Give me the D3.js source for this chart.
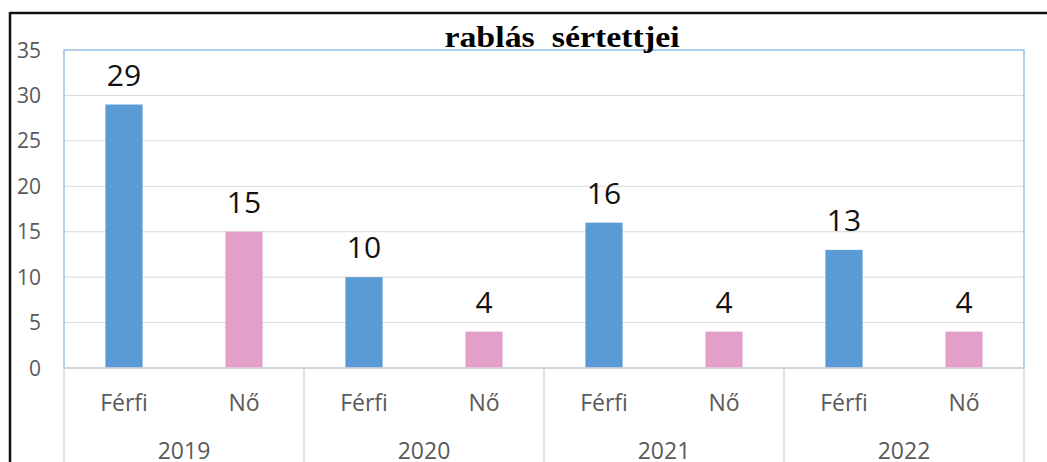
<!DOCTYPE html>
<html><head><meta charset="utf-8">
<script src="https://cdn.jsdelivr.net/npm/d3@7"></script>
<style>body{margin:0;background:#fff}svg{display:block}</style>
</head><body>
<script>
const years = ["2019","2020","2021","2022"];
const genders = ["Férfi","Nő"];
const values = [29,15,10,4,16,4,13,4];
const yTicks = [0,5,10,15,20,25,30,35];
const title = "rablás  sértettjei";
const colors = {"Férfi":"#5B9BD5","Nő":"#E2A0C8"};

const W=1047,H=462;
const svg=d3.select("body").append("svg").attr("width",W).attr("height",H);
const L=64,R=1024,T=50,B=368;

const cats=[];
years.forEach(y=>genders.forEach(g=>cats.push({year:y,gender:g,key:y+"|"+g})));
cats.forEach((c,i)=>c.value=values[i]);

const x=d3.scaleBand().domain(cats.map(c=>c.key)).range([L,R]).paddingInner(0.69).paddingOuter(0.345);
const y=d3.scaleLinear().domain([0,35]).range([B,T]);
const step=x.step();

// outer frame
svg.append("line").attr("x1",10).attr("x2",W).attr("y1",13).attr("y2",13).attr("stroke","#111").attr("stroke-width",2.5);
svg.append("line").attr("x1",10).attr("x2",10).attr("y1",12).attr("y2",H).attr("stroke","#111").attr("stroke-width",2.5);

// gridlines
svg.append("g").selectAll("line").data(yTicks.filter(t=>t>0)).join("line")
  .attr("x1",L).attr("x2",R).attr("y1",d=>y(d)).attr("y2",d=>y(d)).attr("stroke","#d9d9d9").attr("stroke-width",1);

// plot area border
svg.append("rect").attr("x",L).attr("y",T).attr("width",R-L).attr("height",B-T)
  .attr("fill","none").attr("stroke","#9DC3E6").attr("stroke-width",1.5);

// y labels
svg.append("g").selectAll("text").data(yTicks).join("text")
  .attr("x",41).attr("y",d=>y(d)).attr("dy","0.36em").attr("text-anchor","end")
  .attr("font-family","Open Sans, sans-serif").attr("font-size",21).attr("fill","#595959").text(d=>d);

// bars
svg.append("g").selectAll("rect").data(cats).join("rect")
  .attr("x",d=>x(d.key)).attr("width",x.bandwidth())
  .attr("y",d=>y(d.value)).attr("height",d=>y(0)-y(d.value)).attr("fill",d=>colors[d.gender]);

// data labels
svg.append("g").selectAll("text").data(cats).join("text")
  .attr("x",d=>x(d.key)+x.bandwidth()/2).attr("y",d=>y(d.value)-19)
  .attr("text-anchor","middle").attr("font-family","Open Sans, sans-serif").attr("font-size",30).attr("fill","#111").text(d=>d.value);

// x axis line
svg.append("line").attr("x1",L).attr("x2",R).attr("y1",B).attr("y2",B).attr("stroke","#d9d9d9").attr("stroke-width",1.5);

// group separators
const seps=[0,1,2,3,4].map(i=>L+i*2*step);
svg.append("g").selectAll("line").data(seps).join("line")
  .attr("x1",d=>d).attr("x2",d=>d).attr("y1",B).attr("y2",H).attr("stroke","#d9d9d9").attr("stroke-width",1.5);

// category labels
svg.append("g").selectAll("text").data(cats).join("text")
  .attr("x",d=>x(d.key)+x.bandwidth()/2).attr("y",411).attr("text-anchor","middle")
  .attr("font-family","Open Sans, sans-serif").attr("font-size",23).attr("fill","#595959").text(d=>d.gender);

// year labels
svg.append("g").selectAll("text").data(years).join("text")
  .attr("x",(d,i)=>L+(i*2+1)*step).attr("y",459).attr("text-anchor","middle")
  .attr("font-family","Open Sans, sans-serif").attr("font-size",23).attr("fill","#595959").text(d=>d);

// title
svg.append("text").attr("transform","translate(562,47) scale(1.13,1)").attr("text-anchor","middle")
  .attr("font-family","Liberation Serif, serif").attr("font-weight","bold").attr("font-size",30).attr("fill","#000")
  .attr("xml:space","preserve").style("white-space","pre").text(title);
</script>
</body></html>
